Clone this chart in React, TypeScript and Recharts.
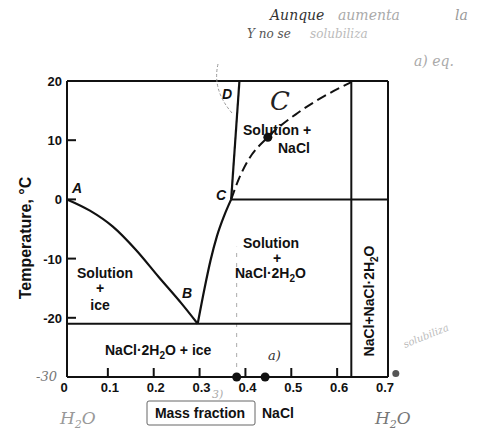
import React from 'react'
import {
  LineChart,
  Line,
  XAxis,
  YAxis,
  ReferenceLine,
  ReferenceDot
} from 'recharts'

// Phase boundaries of the NaCl–H2O system (mass fraction NaCl, temperature °C)
const iceLiquidusX = [0, 0.05, 0.1, 0.15, 0.2, 0.25, 0.285]
const iceLiquidusT = [0, -1.9, -4.6, -8.5, -13.1, -17.6, -21]

const dihydrateLiquidusX = [0.285, 0.3, 0.313, 0.327, 0.342, 0.358]
const dihydrateLiquidusT = [-21, -15, -10.3, -6.2, -2.9, 0]

// metastable NaCl solubility, drawn dashed
const saltSolubilityX = [0.358, 0.375, 0.395, 0.438, 0.503, 0.56, 0.62]
const saltSolubilityT = [0, 3.5, 6.6, 10.5, 14.6, 17.4, 19.8]

const lineCDX = [0.358, 0.376]
const lineCDT = [0, 20]

const eutecticX = [0, 0.62]
const eutecticT = [-21, -21]

const peritecticX = [0.358, 0.7]
const peritecticT = [0, 0]

const dihydrateX = [0.62, 0.62]
const dihydrateT = [-30, 20]

const xTicks = [0, 0.1, 0.2, 0.3, 0.4, 0.5, 0.6, 0.7]
const yTicks = [20, 10, 0, -10, -20, -30]

// pencil marks
const markX = [0.438, 0.37, 0.432, 0.717]
const markT = [10.5, -30, -30, -29.4]

const toPoints = (xs: number[], ts: number[]) => xs.map((x, i) => ({ x, t: ts[i] }))

const font = '"Liberation Sans", Arial, sans-serif'
const hand = '"DejaVu Serif", serif'

// ticks point into the plot area
const YTick = (props: any) => {
  const { x, y, payload } = props
  const axisX = x + 6
  if (payload.value === -30) {
    return (
      <text x={axisX - 10} y={y + 4} textAnchor="end" fontFamily={hand} fontStyle="italic" fontSize={13} fill="#777">
        -30
      </text>
    )
  }
  return (
    <g>
      {payload.value !== 20 && <line x1={axisX} x2={axisX + 9} y1={y} y2={y} stroke="#111" strokeWidth={2} />}
      <text x={axisX - 5} y={y + 5} textAnchor="end" fontFamily={font} fontWeight={700} fontSize={13} fill="#111">
        {payload.value}
      </text>
    </g>
  )
}

const XTick = (props: any) => {
  const { x, y, payload } = props
  const axisY = y - 8
  const v = payload.value
  return (
    <g>
      {v > 0 && v < 0.7 && <line x1={x - 5} x2={x - 5} y1={axisY} y2={axisY - 9} stroke="#111" strokeWidth={2} />}
      <text x={x - 3} y={axisY + 15} textAnchor="middle" fontFamily={font} fontWeight={700} fontSize={13} fill="#111">
        {v === 0 ? '0' : v.toFixed(1)}
      </text>
    </g>
  )
}

const XTitle = (props: any) => {
  const { viewBox } = props
  const cx = viewBox.x + 133
  const by = viewBox.y + viewBox.height + 11
  return (
    <g>
      <rect x={cx - 53} y={by - 17} width={108} height={24} rx={2} fill="none" stroke="#666" strokeWidth={1} />
      <text x={cx} y={by} textAnchor="middle" fontFamily={font} fontWeight={700} fontSize={14} fill="#111">
        Mass fraction
      </text>
      <text x={cx + 62} y={by} fontFamily={font} fontWeight={700} fontSize={14} fill="#111">
        NaCl
      </text>
    </g>
  )
}

const YTitle = (props: any) => {
  const { viewBox } = props
  const x = viewBox.x + 4
  const y = viewBox.y + viewBox.height / 2 + 9
  return (
    <text
      x={0}
      y={0}
      transform={`translate(${x} ${y}) rotate(-90)`}
      textAnchor="middle"
      fontFamily={font}
      fontWeight={700}
      fontSize={16}
      fill="#111"
    >
      Temperature, °C
    </text>
  )
}

const Sub = ({ children }: { children: React.ReactNode }) => (
  <tspan fontSize={10} dy={4}>{children}</tspan>
)

function Annotations() {
  const t = { fontFamily: font, fontWeight: 700, fontSize: 14, fill: '#111' } as const
  const letter = { fontFamily: font, fontWeight: 700, fontStyle: 'italic', fontSize: 14, fill: '#111' } as const
  const pencil = { fontFamily: hand, fontStyle: 'italic', fontSize: 14 } as const
  return (
    <svg width={484} height={435} style={{ position: 'absolute', left: 0, top: 0, pointerEvents: 'none' }}>
      {/* region labels */}
      <text {...t} x={243} y={135}>Solution +</text>
      <text {...t} x={278} y={153}>NaCl</text>
      <text {...t} x={243} y={248}>Solution</text>
      <text {...t} x={277} y={263} textAnchor="middle">+</text>
      <text {...t} x={235} y={278}>NaCl·2H<Sub>2</Sub><tspan dy={-4}>O</tspan></text>
      <text {...t} x={77} y={278}>Solution</text>
      <text {...t} x={100} y={293} textAnchor="middle">+</text>
      <text {...t} x={100} y={310} textAnchor="middle">ice</text>
      <text {...t} x={105} y={355}>NaCl·2H<Sub>2</Sub><tspan dy={-4}>O + ice</tspan></text>
      <text {...t} x={0} y={0} textAnchor="middle" transform="translate(374 301) rotate(-90)">
        NaCl+NaCl·2H<Sub>2</Sub><tspan dy={-4}>O</tspan>
      </text>

      {/* point letters */}
      <text {...letter} x={72} y={193}>A</text>
      <text {...letter} x={182} y={298}>B</text>
      <text {...letter} x={216} y={200}>C</text>
      <text {...letter} x={222} y={99}>D</text>

      {/* handwritten notes */}
      <text {...pencil} x={270} y={20} fill="#333">Aunque</text>
      <text {...pencil} x={338} y={20} fill="#aaa">aumenta</text>
      <text {...pencil} x={455} y={20} fill="#999">la</text>
      <text {...pencil} x={247} y={38} fill="#555" fontSize={12}>Y no se</text>
      <text {...pencil} x={310} y={38} fill="#bbb" fontSize={12}>solubiliza</text>
      <text {...pencil} x={414} y={66} fill="#aaa">a) eq.</text>
      <text {...pencil} x={270} y={110} fill="#222" fontSize={26}>C</text>
      <text {...pencil} x={268} y={360} fill="#333" fontSize={13}>a)</text>
      <text {...pencil} x={212} y={398} fill="#aaa" fontSize={11}>3)</text>
      <text {...pencil} x={60} y={424} fill="#999" fontSize={17}>H<tspan fontSize={11} dy={4}>2</tspan><tspan dy={-4}>O</tspan></text>
      <text {...pencil} x={375} y={424} fill="#777" fontSize={17}>H<tspan fontSize={11} dy={4}>2</tspan><tspan dy={-4}>O</tspan></text>
      <text {...pencil} x={0} y={0} fill="#bbb" fontSize={10} transform="translate(405 348) rotate(-22)">solubiliza</text>
      <path d="M218 64 Q212 90 232 113" fill="none" stroke="#999" strokeWidth={1} strokeDasharray="3 2" />
    </svg>
  )
}

export default function App() {
  return (
    <div style={{ position: 'absolute', left: 0, top: 0, width: 484, height: 435, background: '#fff' }}>
      <LineChart width={484} height={435} margin={{ top: 81, right: 96, bottom: 28, left: 27 }}>
        <XAxis
          type="number"
          dataKey="x"
          domain={[0, 0.7]}
          ticks={xTicks}
          height={30}
          stroke="#111"
          strokeWidth={2}
          tickLine={false}
          tickSize={0}
          tickMargin={8}
          tick={<XTick />}
          label={<XTitle />}
        />
        <YAxis
          type="number"
          dataKey="t"
          domain={[-30, 20]}
          ticks={yTicks}
          width={40}
          stroke="#111"
          strokeWidth={2}
          tickLine={false}
          tickSize={0}
          tickMargin={6}
          tick={<YTick />}
          label={<YTitle />}
        />
        <ReferenceLine y={20} stroke="#111" strokeWidth={2} />
        <ReferenceLine x={0.7} stroke="#111" strokeWidth={2} />
        <ReferenceLine
          segment={[{ x: 0.37, y: -30 }, { x: 0.37, y: -8 }]}
          stroke="#aaa"
          strokeWidth={1}
          strokeDasharray="4 6"
        />

        <Line data={toPoints(iceLiquidusX, iceLiquidusT)} dataKey="t" type="monotone" stroke="#111" strokeWidth={2.2} dot={false} isAnimationActive={false} />
        <Line data={toPoints(dihydrateLiquidusX, dihydrateLiquidusT)} dataKey="t" type="monotone" stroke="#111" strokeWidth={2.2} dot={false} isAnimationActive={false} />
        <Line data={toPoints(saltSolubilityX, saltSolubilityT)} dataKey="t" type="monotone" stroke="#111" strokeWidth={2} strokeDasharray="10 5" dot={false} isAnimationActive={false} />
        <Line data={toPoints(lineCDX, lineCDT)} dataKey="t" type="linear" stroke="#111" strokeWidth={2.2} dot={false} isAnimationActive={false} />
        <Line data={toPoints(eutecticX, eutecticT)} dataKey="t" type="linear" stroke="#111" strokeWidth={2} dot={false} isAnimationActive={false} />
        <Line data={toPoints(peritecticX, peritecticT)} dataKey="t" type="linear" stroke="#111" strokeWidth={2} dot={false} isAnimationActive={false} />
        <Line data={toPoints(dihydrateX, dihydrateT)} dataKey="t" type="linear" stroke="#111" strokeWidth={2} dot={false} isAnimationActive={false} />

        {markX.map((x, i) => (
          <ReferenceDot
            key={i}
            x={x}
            y={markT[i]}
            r={i === 3 ? 3.5 : 4.5}
            fill={i === 3 ? '#555' : '#111'}
            stroke="none"
            ifOverflow="visible"
          />
        ))}
      </LineChart>
      <Annotations />
    </div>
  )
}
